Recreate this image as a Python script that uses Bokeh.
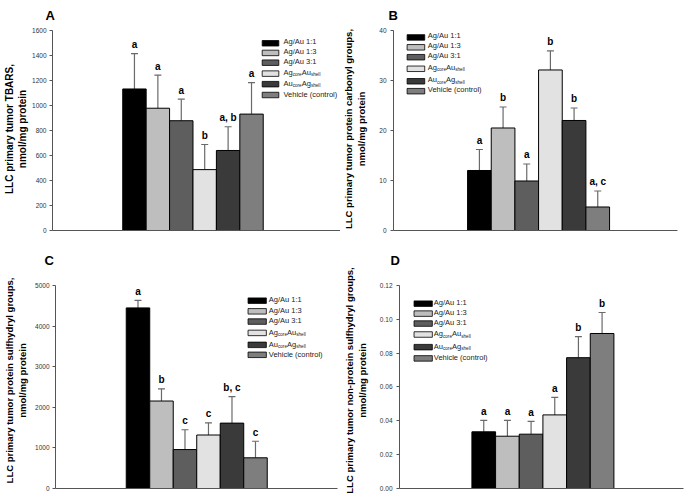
from bokeh.plotting import figure
from bokeh.layouts import row, column
from bokeh.models import Range1d, FixedTicker, Whisker, TeeHead, ColumnDataSource, Label, NumeralTickFormatter
from bokeh.core.properties import value
from bokeh.embed import file_html
from bokeh.resources import INLINE

FONT = "Liberation Sans"

groups = ["Ag/Au 1:1", "Ag/Au 1:3", "Ag/Au 3:1", "Ag_core Au_shell", "Au_core Ag_shell", "Vehicle (control)"]
colors = ["#000000", "#bebebe", "#5e5e5e", "#e2e2e2", "#3a3a3a", "#7e7e7e"]

# Panel A: TBARS
tbars_mean = [1132, 978, 878, 487, 640, 931]
tbars_sd = [283, 265, 172, 201, 190, 251]
tbars_sig = ["a", "a", "a", "b", "a, b", "a"]
tbars_ticks = [0, 200, 400, 600, 800, 1000, 1200, 1400, 1600]

# Panel B: protein carbonyl groups
carb_mean = [12.0, 20.5, 9.9, 32.1, 22.0, 4.7]
carb_sd = [4.2, 4.2, 3.4, 3.8, 2.5, 3.2]
carb_sig = ["a", "b", "a", "b", "b", "a, c"]
carb_ticks = [0, 10, 20, 30, 40]

# Panel C: protein sulfhydryl groups
psh_mean = [4447, 2154, 959, 1317, 1610, 756]
psh_sd = [187, 301, 488, 301, 650, 407]
psh_sig = ["a", "b", "c", "c", "b, c", "c"]
psh_ticks = [0, 1000, 2000, 3000, 4000, 5000]

# Panel D: non-protein sulfhydryl groups
npsh_mean = [0.0335, 0.0309, 0.0321, 0.0435, 0.0773, 0.0916]
npsh_sd = [0.0068, 0.0094, 0.0076, 0.0103, 0.0124, 0.0124]
npsh_sig = ["a", "a", "a", "a", "b", "b"]
npsh_ticks = [0.0, 0.02, 0.04, 0.06, 0.08, 0.10, 0.12]

LEG_SIZE = 7.5


def legend(p, bl, top, fw, fh, xmax, ymax, box_l, box_r, text_x, rows):
    bw = box_r - box_l
    bx = [(box_l + bw / 2) / fw * xmax for _ in rows]
    by = [ymax * (1 - r / fh) for r in rows]
    p.rect(x=bx, y=by, width=bw, height=5.5, width_units="screen", height_units="screen",
           fill_color=colors, line_color="black", line_width=0.8)
    wA = 1.223 * LEG_SIZE
    sub = LEG_SIZE * 0.62
    for g, r in zip(groups, rows):
        if "_" in g:
            a, b = g.split(" ")
            e1, s1 = a.split("_")
            e2, s2 = b.split("_")
            w_s1 = 1.945 * sub
            pieces = [(e1, text_x, r, LEG_SIZE),
                      (s1, text_x + wA, r + 2.2, sub),
                      (e2, text_x + wA + w_s1, r, LEG_SIZE),
                      (s2, text_x + 2 * wA + w_s1, r + 2.2, sub)]
        else:
            pieces = [(g, text_x, r, LEG_SIZE)]
        for t, x, y, s in pieces:
            p.add_layout(Label(x=bl + x, y=top + y, x_units="canvas", y_units="canvas", text=t,
                               text_font=FONT, text_font_size="%gpx" % s, text_baseline="middle",
                               text_color="#222222"))


def panel(means, sds, sig, ymax, ticks, ylabel, lab_size, bl, fw, br, top, fh, bb, xmax,
          start, letter, lx, ext, leg, fmt=None, lab_standoff=4, tick_standoff=3):
    # the frame is extended `ext` px above the axis top, so that the panel letter
    # (drawn as the title just above the frame) sits where it does in the reference
    bt = top - ext
    fh_ext = fh + ext
    p = figure(width=bl + fw + br, height=bt + fh_ext + bb,
               x_range=Range1d(0, xmax), y_range=Range1d(0, ymax * fh_ext / fh),
               output_backend="svg", toolbar_location=None,
               min_border_left=bl, min_border_right=br, min_border_top=bt, min_border_bottom=bb)
    p.outline_line_color = None
    p.grid.visible = False
    p.background_fill_color = "white"
    p.border_fill_color = "white"

    p.title.text = letter
    p.title.text_font = FONT
    p.title.text_font_size = "13px"
    p.title.text_font_style = "bold"
    p.title.text_color = "black"
    p.title.text_line_height = 1.0
    p.title.align = "left"
    p.title.offset = lx

    xs = [start + 0.5 + i for i in range(len(means))]
    uppers = [m + s for m, s in zip(means, sds)]
    src = ColumnDataSource(dict(x=xs, top=means, upper=uppers, c=colors, sig=sig))
    w = Whisker(source=src, base="x", upper="upper", lower="top",
                upper_head=TeeHead(size=7, line_color="#6a6a6a", line_width=1.2),
                lower_head=None, line_color="#6a6a6a", line_width=1.2)
    p.add_layout(w)
    p.vbar(x="x", top="top", width=1, source=src, fill_color="c", line_color="black", line_width=1)
    p.text(x="x", y="upper", text="sig", source=src, y_offset=-9,
           text_font=value(FONT), text_font_size="10px", text_font_style="bold",
           text_align="center", text_baseline="alphabetic", text_color="black")

    p.xaxis.ticker = FixedTicker(ticks=[])
    p.xaxis.axis_line_color = "#555555"
    p.xaxis.major_tick_line_color = None
    p.xaxis.minor_tick_line_color = None
    p.xaxis.major_label_text_font_size = "0px"

    ya = p.yaxis[0]
    ya.bounds = (0, ymax)
    ya.ticker = FixedTicker(ticks=ticks)
    if fmt:
        ya.formatter = NumeralTickFormatter(format=fmt)
    ya.axis_line_color = "#555555"
    ya.major_tick_line_color = "#555555"
    ya.major_tick_out = 3
    ya.major_tick_in = 0
    ya.minor_tick_line_color = None
    ya.major_label_text_font = FONT
    ya.major_label_text_font_size = "6.5px"
    ya.major_label_text_color = "#333333"
    ya.major_label_standoff = tick_standoff
    ya.axis_label = ylabel
    ya.axis_label_text_font = FONT
    ya.axis_label_text_font_size = lab_size
    ya.axis_label_text_font_style = "bold"
    ya.axis_label_text_color = "black"
    ya.axis_label_standoff = lab_standoff

    legend(p, bl, top, fw, fh, xmax, ymax, *leg)
    return p


pA = panel(tbars_mean, tbars_sd, tbars_sig, 1600, tbars_ticks,
           "LLC primary tumor TBARS,\nnmol/mg protein", "10px",
           52, 288, 0, 28, 203, 14, 12.3, 3.0, "A", -7, 3,
           (209.7, 226.3, 231, [13, 22.8, 32.7, 43.8, 54.5, 65.5]), lab_standoff=1, tick_standoff=3)
pB = panel(carb_mean, carb_sd, carb_sig, 40, carb_ticks,
           "LLC primary tumor protein carbonyl groups,\nnmol/mg protein", "9.5px",
           52, 285, 7, 28, 202, 15, 12.0, 3.13, "B", -5, 3,
           (13.7, 31.3, 35.3, [7, 17, 27, 38.7, 51.3, 61.3]), lab_standoff=9, tick_standoff=4)
pC = panel(psh_mean, psh_sd, psh_sig, 5000, psh_ticks,
           "LLC primary tumor protein sulfhydryl groups,\nnmol/mg protein", "9.5px",
           52, 285, 3, 39, 204, 11, 12.0, 3.01, "C", -11, 13,
           (194.7, 213, 216.3, [15.3, 26, 36.3, 47.7, 59.7, 69.7]), lab_standoff=4, tick_standoff=3)
pD = panel(npsh_mean, npsh_sd, npsh_sig, 0.12, npsh_ticks,
           "LLC primary tumor non-protein sulfhydryl groups,\nnmol/mg protein", "9.5px",
           57, 286, 1, 39, 204, 11, 12.0, 3.06, "D", -9, 13,
           (14.7, 33, 36.3, [18.3, 28.3, 38.3, 49.3, 62, 73.3]), fmt="0.00", lab_standoff=9, tick_standoff=4)

layout = column(row(pA, pB), row(pC, pD))
open("out.html", "w").write(file_html(layout, INLINE))
